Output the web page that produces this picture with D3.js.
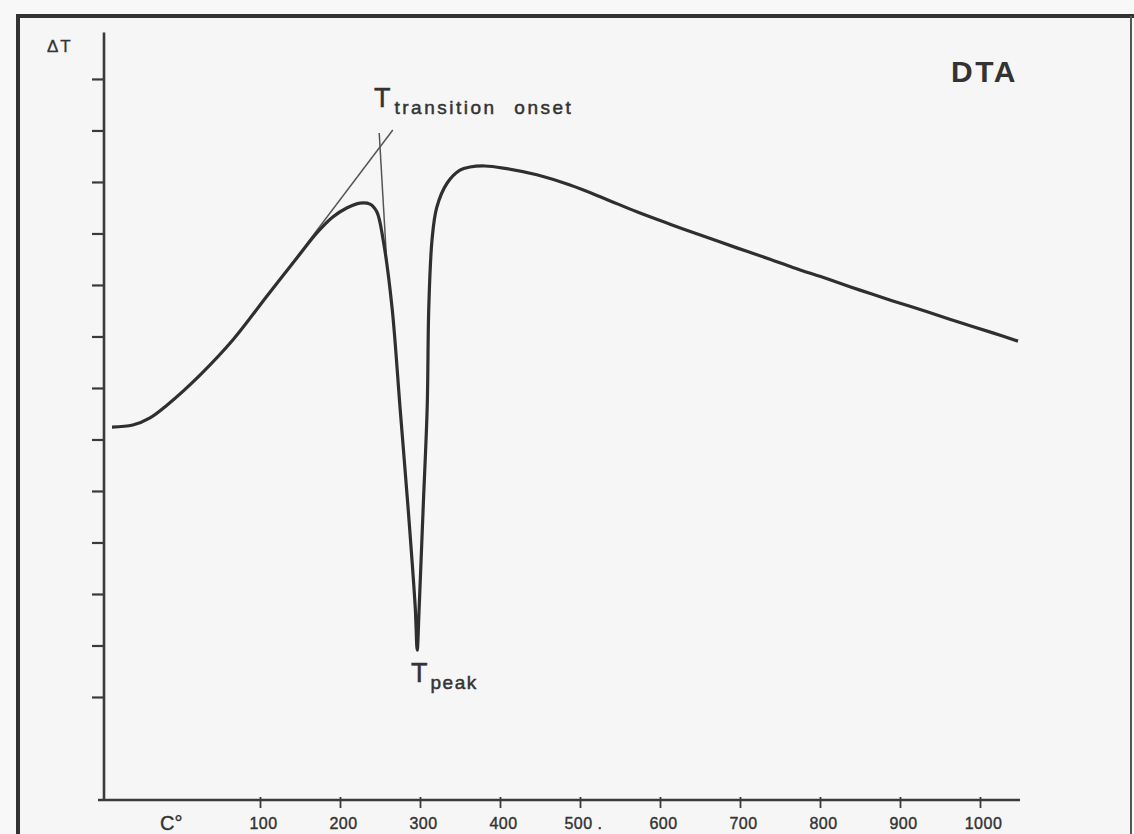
<!DOCTYPE html>
<html>
<head>
<meta charset="utf-8">
<script src="https://cdn.jsdelivr.net/npm/d3@7"></script>
<style>
  html, body { margin: 0; padding: 0; background: #f8f8f8; }
  svg { display: block; font-family: "Liberation Sans", Arial, Helvetica, sans-serif; }
  .tick text { fill: #333; }
</style>
</head>
<body>
<div id="chart"></div>
<script>
// DTA trace, temperature in C, delta T in tick units
var temps = [-85, -59, -37.5, -16, 25, 66, 109, 150, 171, 191, 209, 225, 237.5, 246, 254, 265,
  275, 285, 294, 296.5, 299, 304, 309, 311, 315, 321, 334, 350, 362.5, 381, 404, 446, 487.5,
  529, 571, 612.5, 654, 696, 737.5, 766, 809, 850, 891, 934, 975, 1016, 1047.5];
var deltaT = [7.24, 7.28, 7.42, 7.67, 8.25, 8.93, 9.79, 10.60, 11.01, 11.32, 11.50, 11.59, 11.57, 11.42, 10.87, 9.57,
  7.63, 5.69, 3.75, 2.91, 3.75, 5.69, 7.63, 9.57, 10.87, 11.51, 11.98, 12.23, 12.29, 12.31, 12.27, 12.14, 11.94,
  11.69, 11.42, 11.18, 10.95, 10.72, 10.50, 10.34, 10.12, 9.90, 9.69, 9.48, 9.27, 9.07, 8.91];

// construction lines for the onset
var baselineTangent = [[137.5, 10.37], [266, 13.01]];
var leadingEdge = [[249, 12.95], [259, 10.29]];

var xTicks = [100, 200, 300, 400, 500, 600, 700, 800, 900, 1000];
var xTickLabels = ["100", "200", "300", "400", "500 .", "600", "700", "800", "900", "1000"];
var yTicks = d3.range(2, 15);

var width = 1134, height = 834;
var ink = "#2f2f2f";

var svg = d3.select("#chart").append("svg")
  .attr("width", width)
  .attr("height", height);

// photo frame
svg.append("rect").attr("x", 18).attr("y", 16).attr("width", 1113).attr("height", 830)
  .attr("fill", "#f6f6f6");
svg.append("path").attr("d", "M18,840 V16 H1134")
  .attr("fill", "none").attr("stroke", "#333").attr("stroke-width", 4);
svg.append("line").attr("x1", 1131).attr("x2", 1131).attr("y1", 16).attr("y2", 840)
  .attr("stroke", "#555").attr("stroke-width", 2);

var x = d3.scaleLinear().domain([-95, 1050]).range([104, 1020]);
var y = d3.scaleLinear().domain([0, 14.9]).range([800, 32.6]);

// y axis (ticks only, no labels)
var yAxis = svg.append("g")
  .attr("transform", "translate(" + x(-95) + ",0)")
  .call(d3.axisLeft(y).tickValues(yTicks).tickSize(12).tickFormat(""));
yAxis.select(".domain").remove();
yAxis.selectAll(".tick line").attr("stroke", "#3a3a3a").attr("stroke-width", 2.2);

// x axis
var xAxis = svg.append("g")
  .attr("transform", "translate(0," + y(0) + ")")
  .call(d3.axisBottom(x).tickValues(xTicks).tickSize(8)
    .tickFormat(function (d, i) { return xTickLabels[i]; }));
xAxis.select(".domain").remove();
xAxis.selectAll(".tick line").attr("y1", -3).attr("stroke", "#3a3a3a").attr("stroke-width", 1.8);
xAxis.selectAll(".tick text")
  .attr("y", 29).attr("dy", 0).attr("dx", 3)
  .attr("stroke", "#333").attr("stroke-width", 0.4)
  .style("font-size", "16px").style("letter-spacing", "0.5px");

// axis lines
svg.append("line")
  .attr("x1", x(-95)).attr("x2", x(-95)).attr("y1", y(14.9)).attr("y2", y(0))
  .attr("stroke", "#3a3a3a").attr("stroke-width", 2.6);
svg.append("line")
  .attr("x1", x(-95) - 6).attr("x2", x(1050)).attr("y1", y(0)).attr("y2", y(0))
  .attr("stroke", "#3a3a3a").attr("stroke-width", 2.6);

var line = d3.line()
  .x(function (d) { return x(d[0]); })
  .y(function (d) { return y(d[1]); });

// thin construction lines
[baselineTangent, leadingEdge].forEach(function (seg) {
  svg.append("path").datum(seg)
    .attr("d", line)
    .attr("fill", "none").attr("stroke", "#555").attr("stroke-width", 1.5);
});

// main trace
var trace = temps.map(function (t, i) { return [t, deltaT[i]]; });
svg.append("path").datum(trace)
  .attr("d", line.curve(d3.curveCatmullRom.alpha(0.5)))
  .attr("fill", "none")
  .attr("stroke", ink)
  .attr("stroke-width", 3.2)
  .attr("stroke-linejoin", "round");

// labels
svg.append("text").attr("x", 47).attr("y", 52)
  .style("font-size", "17px").style("letter-spacing", "2px")
  .attr("fill", "#333").attr("stroke", "#333").attr("stroke-width", 0.3)
  .text("\u0394T");

svg.append("text").attr("x", 160).attr("y", 830)
  .style("font-size", "20px").attr("fill", "#333")
  .attr("stroke", "#333").attr("stroke-width", 0.4)
  .text("C\u00b0");

svg.append("text").attr("x", 1018).attr("y", 82).attr("text-anchor", "end")
  .style("font-size", "30px").style("font-weight", "bold").style("letter-spacing", "2.5px")
  .attr("fill", "#333").text("DTA");

// T transition onset
var onset = svg.append("text").attr("x", 374).attr("y", 107)
  .attr("fill", "#333").attr("stroke", "#333").attr("stroke-width", 0.5);
onset.append("tspan").style("font-size", "27px").text("T");
onset.append("tspan").attr("dx", 4).attr("dy", 7)
  .style("font-size", "19px").style("letter-spacing", "2.5px").style("word-spacing", "10px")
  .text("transition onset");

// T peak
var peak = svg.append("text").attr("x", 411).attr("y", 682)
  .attr("fill", "#333").attr("stroke", "#333").attr("stroke-width", 0.5);
peak.append("tspan").style("font-size", "27px").text("T");
peak.append("tspan").attr("dx", 3).attr("dy", 7)
  .style("font-size", "19px").style("letter-spacing", "1.5px")
  .text("peak");
</script>
</body>
</html>
